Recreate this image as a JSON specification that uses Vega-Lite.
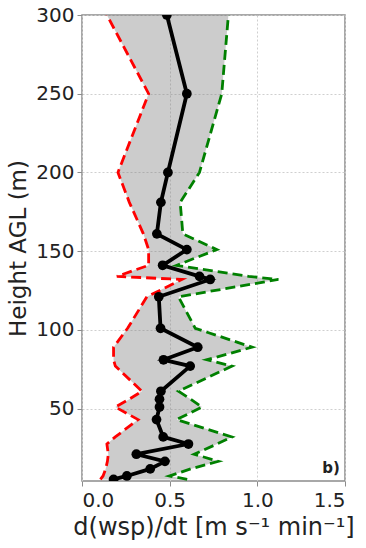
{
  "$schema": "https://vega.github.io/schema/vega-lite/v6.json",
  "autosize": "none",
  "width": 263,
  "height": 466,
  "padding": {"left": 82, "top": 15, "right": 21, "bottom": 67},
  "background": "white",
  "config": {
    "font": "DejaVu Sans",
    "view": {"stroke": "#8c8c8c", "strokeWidth": 1.5},
    "axis": {
      "labelFont": "DejaVu Sans",
      "titleFont": "DejaVu Sans",
      "labelFontSize": 20,
      "titleFontSize": 23,
      "titleFontWeight": "normal",
      "labelColor": "#222",
      "titleColor": "#222",
      "domain": false,
      "tickColor": "#8c8c8c",
      "tickSize": 5,
      "grid": true,
      "gridColor": "#cfcfcf",
      "gridDash": [2, 2],
      "gridWidth": 1
    }
  },
  "data": {
    "values": [
      {"h": 300, "mean": 0.484, "lo": 0.142, "hi": 0.835},
      {"h": 250, "mean": 0.598, "lo": 0.38, "hi": 0.797},
      {"h": 200, "mean": 0.49, "lo": 0.205, "hi": 0.67},
      {"h": 181, "mean": 0.45, "lo": 0.27, "hi": 0.56},
      {"h": 161, "mean": 0.427, "lo": 0.35, "hi": 0.575},
      {"h": 151, "mean": 0.598, "lo": 0.38, "hi": 0.769},
      {"h": 141, "mean": 0.46, "lo": 0.38, "hi": 0.54},
      {"h": 134, "mean": 0.67, "lo": 0.199, "hi": 0.95},
      {"h": 132, "mean": 0.731, "lo": 0.57, "hi": 1.12},
      {"h": 121, "mean": 0.438, "lo": 0.37, "hi": 0.55},
      {"h": 101, "mean": 0.448, "lo": 0.26, "hi": 0.646},
      {"h": 89, "mean": 0.66, "lo": 0.18, "hi": 0.97},
      {"h": 81, "mean": 0.465, "lo": 0.18, "hi": 0.712},
      {"h": 77, "mean": 0.617, "lo": 0.19, "hi": 0.855},
      {"h": 61, "mean": 0.45, "lo": 0.342, "hi": 0.55},
      {"h": 56, "mean": 0.442, "lo": 0.27, "hi": 0.62},
      {"h": 51, "mean": 0.442, "lo": 0.19, "hi": 0.684},
      {"h": 43, "mean": 0.425, "lo": 0.32, "hi": 0.54},
      {"h": 32, "mean": 0.463, "lo": 0.19, "hi": 0.855},
      {"h": 27.5, "mean": 0.607, "lo": 0.142, "hi": 0.77},
      {"h": 21, "mean": 0.31, "lo": 0.15, "hi": 0.64},
      {"h": 16.5, "mean": 0.473, "lo": 0.145, "hi": 0.778},
      {"h": 11.7, "mean": 0.389, "lo": 0.135, "hi": 0.62},
      {"h": 7.2, "mean": 0.256, "lo": 0.12, "hi": 0.5},
      {"h": 5, "mean": 0.18, "lo": 0.105, "hi": 0.6}
    ]
  },
  "layer": [
    {
      "mark": {"type": "area", "orient": "horizontal", "color": "gray", "opacity": 0.4, "clip": true},
      "encoding": {
        "y": {"field": "h", "type": "quantitative", "scale": {"domain": [4, 300], "nice": false}, "axis": {"values": [50, 100, 150, 200, 250, 300], "title": "Height AGL (m)", "titlePadding": 5, "labelPadding": 3}},
        "x": {"field": "lo", "type": "quantitative", "scale": {"domain": [0, 1.5], "nice": false}, "axis": {"values": [0, 0.5, 1.0, 1.5], "format": ".1f", "title": "d(wsp)/dt [m s⁻¹ min⁻¹]", "titleFontSize": 24, "titlePadding": 5, "labelPadding": 4}},
        "x2": {"field": "hi"}
      }
    },
    {
      "mark": {"type": "line", "color": "#ff0000", "strokeWidth": 2.8, "strokeDash": [10, 5], "clip": true},
      "encoding": {
        "y": {"field": "h", "type": "quantitative"},
        "x": {"field": "lo", "type": "quantitative"},
        "order": {"field": "h", "type": "quantitative"}
      }
    },
    {
      "mark": {"type": "line", "color": "#008000", "strokeWidth": 2.8, "strokeDash": [10, 5], "clip": true},
      "encoding": {
        "y": {"field": "h", "type": "quantitative"},
        "x": {"field": "hi", "type": "quantitative"},
        "order": {"field": "h", "type": "quantitative"}
      }
    },
    {
      "mark": {"type": "line", "color": "black", "strokeWidth": 3.8, "clip": true, "point": {"filled": true, "color": "black", "size": 95, "opacity": 1}},
      "encoding": {
        "y": {"field": "h", "type": "quantitative"},
        "x": {"field": "mean", "type": "quantitative"},
        "order": {"field": "h", "type": "quantitative"}
      }
    },
    {
      "data": {"values": [{"x": 1.47, "h": 12, "label": "b)"}]},
      "mark": {"type": "text", "align": "right", "baseline": "middle", "fontWeight": "bold", "fontSize": 15, "font": "DejaVu Sans", "color": "#222"},
      "encoding": {
        "x": {"field": "x", "type": "quantitative"},
        "y": {"field": "h", "type": "quantitative"},
        "text": {"field": "label"}
      }
    }
  ]
}
